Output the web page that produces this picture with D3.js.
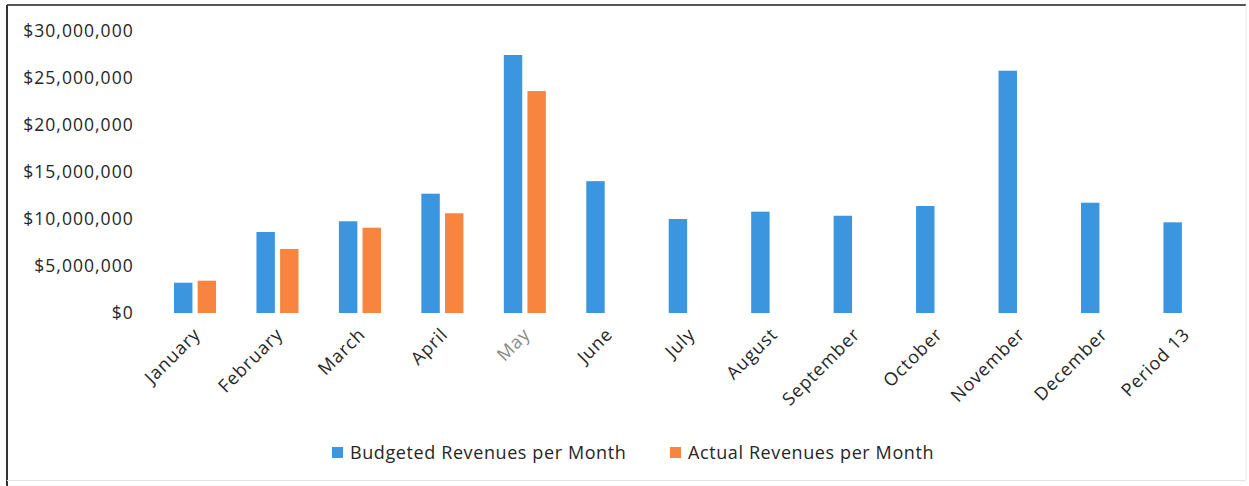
<!DOCTYPE html>
<html>
<head>
<meta charset="utf-8">
<script src="https://cdn.jsdelivr.net/npm/d3@7"></script>
<style>
  html, body { margin: 0; padding: 0; background: #ffffff; }
  svg { display: block; }
  text { font-family: "Open Sans", "Noto Sans", sans-serif; fill: #262626; }
</style>
</head>
<body>
<svg id="chart" width="1249" height="486"></svg>
<script>
// Monthly revenue data
const categories = ["January", "February", "March", "April", "May", "June", "July",
  "August", "September", "October", "November", "December", "Period 13"];
const budgeted = [3220000, 8600000, 9740000, 12670000, 27400000, 14000000, 9980000,
  10760000, 10330000, 11360000, 25730000, 11710000, 9630000];
const actual = [3430000, 6800000, 9060000, 10590000, 23570000, null, null,
  null, null, null, null, null, null];
const seriesNames = ["Budgeted Revenues per Month", "Actual Revenues per Month"];
const seriesColors = ["#3b95df", "#f7853f"];
const yTicks = [0, 5000000, 10000000, 15000000, 20000000, 25000000, 30000000];

const svg = d3.select("#chart");
const W = 1249, H = 486;

// chart frame
svg.append("rect").attr("x", 0).attr("y", 0).attr("width", W).attr("height", H).attr("fill", "#fff");
svg.append("line").attr("x1", 7).attr("x2", 1246).attr("y1", 5).attr("y2", 5)
  .attr("stroke", "#555").attr("stroke-width", 2);
svg.append("line").attr("x1", 7).attr("x2", 7).attr("y1", 5).attr("y2", 486)
  .attr("stroke", "#333").attr("stroke-width", 2);
svg.append("line").attr("x1", 1246).attr("x2", 1246).attr("y1", 5).attr("y2", 480)
  .attr("stroke", "#e4e4e4").attr("stroke-width", 1);
svg.append("line").attr("x1", 7).attr("x2", 1246).attr("y1", 480.5).attr("y2", 480.5)
  .attr("stroke", "#e4e4e4").attr("stroke-width", 1);

const plot = { left: 153.8, right: 1225.7, top: 30.5, bottom: 313 };

const x0 = d3.scaleBand().domain(categories)
  .range([plot.left, plot.right]).paddingInner(0.49).paddingOuter(0.245);
const x1 = d3.scaleBand().domain([0, 1])
  .range([0, x0.bandwidth()]).paddingInner(0.22);
const y = d3.scaleLinear().domain([0, 30000000]).range([plot.bottom, plot.top]);

const fmt = v => "$" + d3.format(",")(v);

// y axis labels (no axis line or ticks)
const yAxis = svg.append("g").attr("transform", `translate(${plot.left - 20},0)`)
  .call(d3.axisLeft(y).tickValues(yTicks).tickFormat(fmt).tickSize(0).tickPadding(0));
yAxis.select(".domain").remove();
yAxis.selectAll("text").attr("font-size", 17.5).attr("letter-spacing", 1.05)
  .attr("font-family", "'Open Sans', sans-serif").style("fill", "#262626");

// bars
const rows = categories.map((c, i) => ({ cat: c, vals: [budgeted[i], actual[i]] }));
const groups = svg.append("g").selectAll("g").data(rows).join("g")
  .attr("transform", d => `translate(${x0(d.cat)},0)`);
groups.selectAll("rect")
  .data(d => d.vals.map((v, k) => ({ k, v })).filter(e => e.v != null))
  .join("rect")
  .attr("x", e => x1(e.k))
  .attr("width", x1.bandwidth())
  .attr("y", e => y(e.v))
  .attr("height", e => y(0) - y(e.v))
  .attr("fill", e => seriesColors[e.k]);

// x axis labels rotated
const xAxis = svg.append("g").attr("transform", `translate(0,${plot.bottom + 12})`)
  .call(d3.axisBottom(x0).tickSize(0).tickPadding(0));
xAxis.select(".domain").remove();
xAxis.selectAll("text")
  .attr("font-size", 18)
  .attr("letter-spacing", 0.9)
  .attr("font-family", "'Open Sans', sans-serif")
  .attr("text-anchor", "end")
  .attr("dy", "0.35em")
  .attr("transform", "translate(2,6) rotate(-45)")
  .style("fill", d => d === "May" ? "#8a8a8a" : "#262626");

// legend
const legendItems = [
  { name: seriesNames[0], color: seriesColors[0], x: 332 },
  { name: seriesNames[1], color: seriesColors[1], x: 670 }
];
const legend = svg.append("g");
legendItems.forEach(it => {
  legend.append("rect").attr("x", it.x).attr("y", 447).attr("width", 11).attr("height", 11)
    .attr("fill", it.color);
  legend.append("text").attr("x", it.x + 18).attr("y", 452.5).attr("dy", "0.35em")
    .attr("font-size", 18).attr("letter-spacing", 0.6).text(it.name);
});
</script>
</body>
</html>
